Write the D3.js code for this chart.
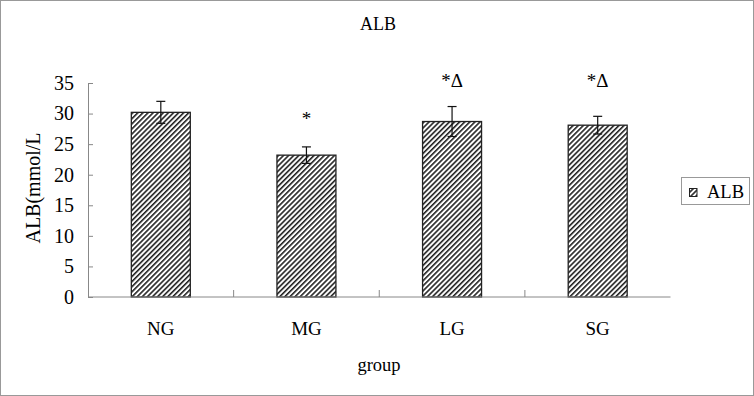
<!DOCTYPE html>
<html>
<head>
<meta charset="utf-8">
<script src="https://cdn.jsdelivr.net/npm/d3@7"></script>
<style>
  body { margin: 0; background: #fff; }
  text { font-family: "Liberation Serif", "Times New Roman", serif; fill: #000; }
</style>
</head>
<body>
<div id="chart"></div>
<script>
// values
var groups = ["NG", "MG", "LG", "SG"];
var means = [30.2, 23.2, 28.7, 28.1];
var sds = [1.8, 1.35, 2.45, 1.45];
var marks = ["", "*", "*\u0394", "*\u0394"];
var yTicks = [0, 5, 10, 15, 20, 25, 30, 35];

var width = 754,
  height = 396,
  plotLeft = 88,
  plotRight = 670.5,
  plotTop = 83,
  plotBottom = 297;

var svg = d3.select("#chart").append("svg")
    .attr("width", width)
    .attr("height", height);

// hatch pattern
var defs = svg.append("defs");
defs.append("pattern")
    .attr("id", "hatch")
    .attr("patternUnits", "userSpaceOnUse")
    .attr("width", 3.6)
    .attr("height", 3.6)
    .attr("patternTransform", "rotate(45)")
  .append("line")
    .attr("x1", 0.8).attr("y1", 0)
    .attr("x2", 0.8).attr("y2", 3.6)
    .attr("stroke", "#111")
    .attr("stroke-width", 1.5);

svg.append("rect")
    .attr("x", 0.5).attr("y", 0.5)
    .attr("width", width - 1).attr("height", height - 1)
    .attr("fill", "#fff")
    .attr("stroke", "#999");

var x = d3.scaleBand()
    .domain(groups)
    .range([plotLeft, plotRight])
    .paddingInner(0.595)
    .paddingOuter(0.2975);

var xBand = d3.scaleBand().domain(groups).range([plotLeft, plotRight]);

var y = d3.scaleLinear()
    .domain([0, 35])
    .range([plotBottom, plotTop]);

// bars
svg.selectAll(".bar")
    .data(groups)
  .enter().append("rect")
    .attr("class", "bar")
    .attr("x", function(d) { return x(d); })
    .attr("width", x.bandwidth())
    .attr("y", function(d, i) { return y(means[i]); })
    .attr("height", function(d, i) { return y(0) - y(means[i]); })
    .attr("fill", "url(#hatch)")
    .attr("stroke", "#222")
    .attr("stroke-width", 1.3);

// y axis, ticks point inward
var yAxis = svg.append("g")
    .attr("transform", "translate(" + plotLeft + ",0)")
    .call(d3.axisLeft(y).tickValues(yTicks).tickSize(-5).tickPadding(14));
yAxis.select(".domain").attr("stroke", "#888");
yAxis.selectAll(".tick line").attr("stroke", "#888");
yAxis.selectAll("text")
    .style("font-size", "20px")
    .style("font-family", "Liberation Serif");

// x axis line and ticks at category boundaries
svg.append("line")
    .attr("x1", plotLeft).attr("x2", plotRight)
    .attr("y1", plotBottom).attr("y2", plotBottom)
    .attr("stroke", "#888");
svg.selectAll(".xtick")
    .data(groups.slice(1))
  .enter().append("line")
    .attr("x1", function(d) { return xBand(d); })
    .attr("x2", function(d) { return xBand(d); })
    .attr("y1", plotBottom).attr("y2", plotBottom - 7)
    .attr("stroke", "#888");

svg.selectAll(".xlabel")
    .data(groups)
  .enter().append("text")
    .attr("x", function(d) { return x(d) + x.bandwidth() / 2; })
    .attr("y", 335)
    .attr("text-anchor", "middle")
    .style("font-size", "19px")
    .text(function(d) { return d; });

// error bars
var err = svg.selectAll(".err")
    .data(groups)
  .enter().append("g")
    .attr("class", "err")
    .attr("stroke", "#111")
    .attr("stroke-width", 1.2);
err.append("line")
    .attr("x1", function(d) { return x(d) + x.bandwidth() / 2; })
    .attr("x2", function(d) { return x(d) + x.bandwidth() / 2; })
    .attr("y1", function(d, i) { return y(means[i] + sds[i]); })
    .attr("y2", function(d, i) { return y(means[i] - sds[i]); });
err.append("line")
    .attr("x1", function(d) { return x(d) + x.bandwidth() / 2 - 4.5; })
    .attr("x2", function(d) { return x(d) + x.bandwidth() / 2 + 4.5; })
    .attr("y1", function(d, i) { return y(means[i] + sds[i]); })
    .attr("y2", function(d, i) { return y(means[i] + sds[i]); });
err.append("line")
    .attr("x1", function(d) { return x(d) + x.bandwidth() / 2 - 4.5; })
    .attr("x2", function(d) { return x(d) + x.bandwidth() / 2 + 4.5; })
    .attr("y1", function(d, i) { return y(means[i] - sds[i]); })
    .attr("y2", function(d, i) { return y(means[i] - sds[i]); });

// significance marks
svg.selectAll(".mark")
    .data(groups)
  .enter().append("text")
    .attr("x", function(d) { return x(d) + x.bandwidth() / 2; })
    .attr("y", function(d, i) { return i == 1 ? 125 : 87; })
    .attr("text-anchor", "middle")
    .style("font-size", "19px")
    .text(function(d, i) { return marks[i]; });

// title and axis labels
svg.append("text")
    .attr("x", 378).attr("y", 30)
    .attr("text-anchor", "middle")
    .style("font-size", "18px")
    .text("ALB");

svg.append("text")
    .attr("x", 379).attr("y", 371)
    .attr("text-anchor", "middle")
    .style("font-size", "18.5px")
    .text("group");

svg.append("text")
    .attr("transform", "translate(40,188) rotate(-90)")
    .attr("text-anchor", "middle")
    .style("font-size", "20px")
    .text("ALB(mmol/L");

// legend
var legend = svg.append("g");
legend.append("rect")
    .attr("x", 681.5).attr("y", 177.5)
    .attr("width", 68).attr("height", 27)
    .attr("fill", "#fff")
    .attr("stroke", "#999");
legend.append("rect")
    .attr("x", 689.5).attr("y", 188.5)
    .attr("width", 7.5).attr("height", 8)
    .attr("fill", "url(#hatch)")
    .attr("stroke", "#222");
legend.append("text")
    .attr("x", 707).attr("y", 198)
    .style("font-size", "18.5px")
    .text("ALB");
</script>
</body>
</html>
